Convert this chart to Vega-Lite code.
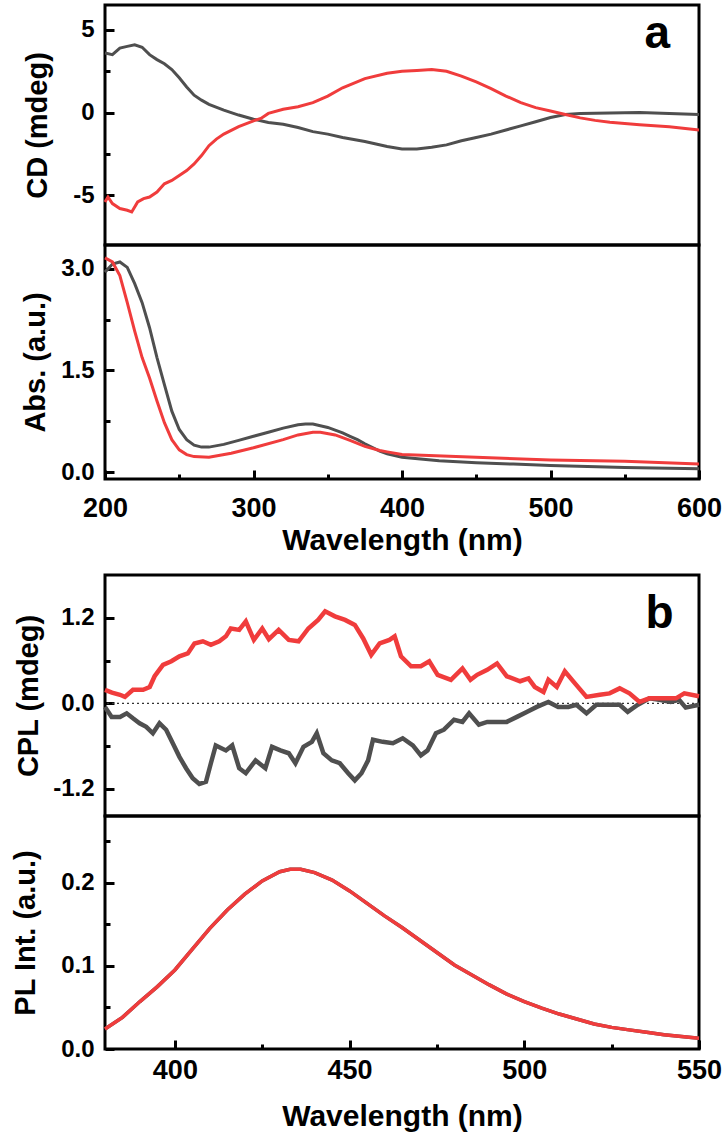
{
  "$schema": "https://vega.github.io/schema/vega-lite/v6.json",
  "padding": {"left": 10, "top": 3, "right": 5, "bottom": 3},
  "background": "white",
  "datasets": {
    "cd": [
      {"wl":200,"v":3.6,"s":"S1"},{"wl":205,"v":3.5,"s":"S1"},{"wl":210,"v":3.9,"s":"S1"},{"wl":215,"v":4.0,"s":"S1"},{"wl":220,"v":4.1,"s":"S1"},{"wl":225,"v":3.95,"s":"S1"},{"wl":230,"v":3.5,"s":"S1"},{"wl":235,"v":3.2,"s":"S1"},{"wl":240,"v":2.95,"s":"S1"},{"wl":245,"v":2.6,"s":"S1"},{"wl":250,"v":2.1,"s":"S1"},{"wl":255,"v":1.55,"s":"S1"},{"wl":260,"v":1.05,"s":"S1"},{"wl":265,"v":0.75,"s":"S1"},{"wl":270,"v":0.5,"s":"S1"},{"wl":280,"v":0.15,"s":"S1"},{"wl":290,"v":-0.15,"s":"S1"},{"wl":300,"v":-0.4,"s":"S1"},{"wl":310,"v":-0.6,"s":"S1"},{"wl":320,"v":-0.7,"s":"S1"},{"wl":330,"v":-0.9,"s":"S1"},{"wl":340,"v":-1.15,"s":"S1"},{"wl":350,"v":-1.3,"s":"S1"},{"wl":360,"v":-1.5,"s":"S1"},{"wl":375,"v":-1.75,"s":"S1"},{"wl":390,"v":-2.05,"s":"S1"},{"wl":400,"v":-2.2,"s":"S1"},{"wl":410,"v":-2.2,"s":"S1"},{"wl":420,"v":-2.1,"s":"S1"},{"wl":430,"v":-1.95,"s":"S1"},{"wl":440,"v":-1.7,"s":"S1"},{"wl":450,"v":-1.5,"s":"S1"},{"wl":460,"v":-1.3,"s":"S1"},{"wl":470,"v":-1.05,"s":"S1"},{"wl":480,"v":-0.8,"s":"S1"},{"wl":490,"v":-0.55,"s":"S1"},{"wl":500,"v":-0.3,"s":"S1"},{"wl":510,"v":-0.12,"s":"S1"},{"wl":520,"v":-0.05,"s":"S1"},{"wl":540,"v":-0.02,"s":"S1"},{"wl":560,"v":0.0,"s":"S1"},{"wl":580,"v":-0.05,"s":"S1"},{"wl":600,"v":-0.12,"s":"S1"},
      {"wl":200,"v":-5.4,"s":"S2"},{"wl":202,"v":-5.1,"s":"S2"},{"wl":205,"v":-5.5,"s":"S2"},{"wl":210,"v":-5.8,"s":"S2"},{"wl":215,"v":-5.9,"s":"S2"},{"wl":218,"v":-6.0,"s":"S2"},{"wl":222,"v":-5.4,"s":"S2"},{"wl":226,"v":-5.2,"s":"S2"},{"wl":230,"v":-5.1,"s":"S2"},{"wl":235,"v":-4.8,"s":"S2"},{"wl":240,"v":-4.3,"s":"S2"},{"wl":245,"v":-4.1,"s":"S2"},{"wl":250,"v":-3.8,"s":"S2"},{"wl":255,"v":-3.5,"s":"S2"},{"wl":260,"v":-3.1,"s":"S2"},{"wl":265,"v":-2.6,"s":"S2"},{"wl":270,"v":-2.0,"s":"S2"},{"wl":275,"v":-1.6,"s":"S2"},{"wl":280,"v":-1.3,"s":"S2"},{"wl":290,"v":-0.85,"s":"S2"},{"wl":300,"v":-0.5,"s":"S2"},{"wl":305,"v":-0.35,"s":"S2"},{"wl":310,"v":-0.05,"s":"S2"},{"wl":320,"v":0.2,"s":"S2"},{"wl":330,"v":0.35,"s":"S2"},{"wl":340,"v":0.6,"s":"S2"},{"wl":350,"v":1.0,"s":"S2"},{"wl":360,"v":1.5,"s":"S2"},{"wl":375,"v":2.05,"s":"S2"},{"wl":390,"v":2.38,"s":"S2"},{"wl":400,"v":2.5,"s":"S2"},{"wl":410,"v":2.55,"s":"S2"},{"wl":420,"v":2.6,"s":"S2"},{"wl":430,"v":2.5,"s":"S2"},{"wl":440,"v":2.2,"s":"S2"},{"wl":450,"v":1.85,"s":"S2"},{"wl":460,"v":1.45,"s":"S2"},{"wl":470,"v":1.0,"s":"S2"},{"wl":480,"v":0.6,"s":"S2"},{"wl":490,"v":0.3,"s":"S2"},{"wl":500,"v":0.1,"s":"S2"},{"wl":510,"v":-0.12,"s":"S2"},{"wl":520,"v":-0.32,"s":"S2"},{"wl":530,"v":-0.47,"s":"S2"},{"wl":540,"v":-0.58,"s":"S2"},{"wl":560,"v":-0.73,"s":"S2"},{"wl":580,"v":-0.85,"s":"S2"},{"wl":600,"v":-1.05,"s":"S2"}
    ],
    "abs": [
      {"wl":200,"v":2.95,"s":"S1"},{"wl":205,"v":3.07,"s":"S1"},{"wl":210,"v":3.1,"s":"S1"},{"wl":215,"v":3.02,"s":"S1"},{"wl":220,"v":2.78,"s":"S1"},{"wl":225,"v":2.5,"s":"S1"},{"wl":230,"v":2.13,"s":"S1"},{"wl":235,"v":1.69,"s":"S1"},{"wl":240,"v":1.29,"s":"S1"},{"wl":245,"v":0.9,"s":"S1"},{"wl":250,"v":0.63,"s":"S1"},{"wl":255,"v":0.48,"s":"S1"},{"wl":260,"v":0.4,"s":"S1"},{"wl":265,"v":0.37,"s":"S1"},{"wl":270,"v":0.37,"s":"S1"},{"wl":280,"v":0.41,"s":"S1"},{"wl":290,"v":0.47,"s":"S1"},{"wl":300,"v":0.53,"s":"S1"},{"wl":310,"v":0.59,"s":"S1"},{"wl":320,"v":0.65,"s":"S1"},{"wl":330,"v":0.7,"s":"S1"},{"wl":335,"v":0.71,"s":"S1"},{"wl":340,"v":0.71,"s":"S1"},{"wl":350,"v":0.66,"s":"S1"},{"wl":360,"v":0.58,"s":"S1"},{"wl":365,"v":0.53,"s":"S1"},{"wl":370,"v":0.48,"s":"S1"},{"wl":375,"v":0.42,"s":"S1"},{"wl":385,"v":0.31,"s":"S1"},{"wl":390,"v":0.27,"s":"S1"},{"wl":400,"v":0.22,"s":"S1"},{"wl":425,"v":0.17,"s":"S1"},{"wl":450,"v":0.14,"s":"S1"},{"wl":475,"v":0.12,"s":"S1"},{"wl":500,"v":0.1,"s":"S1"},{"wl":550,"v":0.07,"s":"S1"},{"wl":600,"v":0.05,"s":"S1"},
      {"wl":200,"v":3.16,"s":"S2"},{"wl":205,"v":3.1,"s":"S2"},{"wl":210,"v":2.9,"s":"S2"},{"wl":215,"v":2.5,"s":"S2"},{"wl":220,"v":2.08,"s":"S2"},{"wl":225,"v":1.69,"s":"S2"},{"wl":230,"v":1.39,"s":"S2"},{"wl":235,"v":1.05,"s":"S2"},{"wl":240,"v":0.73,"s":"S2"},{"wl":245,"v":0.48,"s":"S2"},{"wl":250,"v":0.33,"s":"S2"},{"wl":255,"v":0.26,"s":"S2"},{"wl":260,"v":0.23,"s":"S2"},{"wl":270,"v":0.22,"s":"S2"},{"wl":285,"v":0.28,"s":"S2"},{"wl":300,"v":0.36,"s":"S2"},{"wl":320,"v":0.48,"s":"S2"},{"wl":330,"v":0.55,"s":"S2"},{"wl":340,"v":0.59,"s":"S2"},{"wl":345,"v":0.59,"s":"S2"},{"wl":355,"v":0.55,"s":"S2"},{"wl":365,"v":0.47,"s":"S2"},{"wl":375,"v":0.38,"s":"S2"},{"wl":385,"v":0.32,"s":"S2"},{"wl":390,"v":0.3,"s":"S2"},{"wl":400,"v":0.26,"s":"S2"},{"wl":450,"v":0.22,"s":"S2"},{"wl":500,"v":0.18,"s":"S2"},{"wl":550,"v":0.16,"s":"S2"},{"wl":600,"v":0.12,"s":"S2"}
    ],
    "cpl": [
      {"wl":380,"v":-0.05,"s":"S1"},{"wl":381.9,"v":-0.19,"s":"S1"},{"wl":384.3,"v":-0.19,"s":"S1"},{"wl":386.2,"v":-0.14,"s":"S1"},{"wl":388,"v":-0.21,"s":"S1"},{"wl":389.9,"v":-0.28,"s":"S1"},{"wl":391.8,"v":-0.33,"s":"S1"},{"wl":393.7,"v":-0.42,"s":"S1"},{"wl":395.6,"v":-0.28,"s":"S1"},{"wl":397.5,"v":-0.37,"s":"S1"},{"wl":399.4,"v":-0.56,"s":"S1"},{"wl":401.3,"v":-0.75,"s":"S1"},{"wl":403.2,"v":-0.91,"s":"S1"},{"wl":405.1,"v":-1.05,"s":"S1"},{"wl":407,"v":-1.13,"s":"S1"},{"wl":408.9,"v":-1.1,"s":"S1"},{"wl":410.3,"v":-0.84,"s":"S1"},{"wl":411.7,"v":-0.59,"s":"S1"},{"wl":414.6,"v":-0.66,"s":"S1"},{"wl":416.4,"v":-0.59,"s":"S1"},{"wl":418.4,"v":-0.91,"s":"S1"},{"wl":420.3,"v":-0.98,"s":"S1"},{"wl":423.1,"v":-0.8,"s":"S1"},{"wl":425.9,"v":-0.91,"s":"S1"},{"wl":427.8,"v":-0.61,"s":"S1"},{"wl":430.2,"v":-0.66,"s":"S1"},{"wl":432.6,"v":-0.7,"s":"S1"},{"wl":434.5,"v":-0.84,"s":"S1"},{"wl":436.8,"v":-0.61,"s":"S1"},{"wl":439.2,"v":-0.54,"s":"S1"},{"wl":440.6,"v":-0.42,"s":"S1"},{"wl":442.5,"v":-0.7,"s":"S1"},{"wl":444.9,"v":-0.8,"s":"S1"},{"wl":447.2,"v":-0.84,"s":"S1"},{"wl":449.6,"v":-0.98,"s":"S1"},{"wl":451.5,"v":-1.08,"s":"S1"},{"wl":453.4,"v":-0.98,"s":"S1"},{"wl":455.3,"v":-0.8,"s":"S1"},{"wl":456.7,"v":-0.51,"s":"S1"},{"wl":459.5,"v":-0.54,"s":"S1"},{"wl":462.4,"v":-0.56,"s":"S1"},{"wl":465.2,"v":-0.49,"s":"S1"},{"wl":468.1,"v":-0.59,"s":"S1"},{"wl":470.4,"v":-0.73,"s":"S1"},{"wl":472.3,"v":-0.66,"s":"S1"},{"wl":474.7,"v":-0.42,"s":"S1"},{"wl":477,"v":-0.37,"s":"S1"},{"wl":479.9,"v":-0.23,"s":"S1"},{"wl":482.3,"v":-0.26,"s":"S1"},{"wl":484.2,"v":-0.14,"s":"S1"},{"wl":487,"v":-0.3,"s":"S1"},{"wl":489.4,"v":-0.26,"s":"S1"},{"wl":492.2,"v":-0.26,"s":"S1"},{"wl":495,"v":-0.26,"s":"S1"},{"wl":497.9,"v":-0.19,"s":"S1"},{"wl":500.7,"v":-0.12,"s":"S1"},{"wl":503.6,"v":-0.05,"s":"S1"},{"wl":506.9,"v":0.02,"s":"S1"},{"wl":509.7,"v":-0.05,"s":"S1"},{"wl":512.6,"v":-0.05,"s":"S1"},{"wl":514.9,"v":-0.02,"s":"S1"},{"wl":517.8,"v":-0.14,"s":"S1"},{"wl":520.6,"v":-0.02,"s":"S1"},{"wl":524.4,"v":-0.02,"s":"S1"},{"wl":527.3,"v":-0.02,"s":"S1"},{"wl":529.6,"v":-0.12,"s":"S1"},{"wl":532.5,"v":-0.02,"s":"S1"},{"wl":535.8,"v":0.07,"s":"S1"},{"wl":538.6,"v":0.05,"s":"S1"},{"wl":541.9,"v":0.02,"s":"S1"},{"wl":544.3,"v":0.05,"s":"S1"},{"wl":546.2,"v":-0.06,"s":"S1"},{"wl":550,"v":-0.02,"s":"S1"},
      {"wl":380,"v":0.19,"s":"S2"},{"wl":382,"v":0.15,"s":"S2"},{"wl":384.3,"v":0.12,"s":"S2"},{"wl":385.7,"v":0.09,"s":"S2"},{"wl":388,"v":0.19,"s":"S2"},{"wl":390.9,"v":0.19,"s":"S2"},{"wl":392.8,"v":0.23,"s":"S2"},{"wl":394.2,"v":0.38,"s":"S2"},{"wl":396.6,"v":0.54,"s":"S2"},{"wl":399,"v":0.59,"s":"S2"},{"wl":401.3,"v":0.66,"s":"S2"},{"wl":403.7,"v":0.7,"s":"S2"},{"wl":405.6,"v":0.84,"s":"S2"},{"wl":408,"v":0.87,"s":"S2"},{"wl":410.3,"v":0.82,"s":"S2"},{"wl":412.7,"v":0.87,"s":"S2"},{"wl":414.6,"v":0.94,"s":"S2"},{"wl":416,"v":1.05,"s":"S2"},{"wl":418.4,"v":1.03,"s":"S2"},{"wl":420.3,"v":1.15,"s":"S2"},{"wl":422.6,"v":0.89,"s":"S2"},{"wl":425,"v":1.05,"s":"S2"},{"wl":426.9,"v":0.9,"s":"S2"},{"wl":429.7,"v":1.03,"s":"S2"},{"wl":432.6,"v":0.89,"s":"S2"},{"wl":435.4,"v":0.87,"s":"S2"},{"wl":438.2,"v":1.05,"s":"S2"},{"wl":441,"v":1.17,"s":"S2"},{"wl":443,"v":1.29,"s":"S2"},{"wl":445.8,"v":1.22,"s":"S2"},{"wl":448.7,"v":1.17,"s":"S2"},{"wl":451.5,"v":1.1,"s":"S2"},{"wl":453.9,"v":0.91,"s":"S2"},{"wl":456.2,"v":0.68,"s":"S2"},{"wl":458.6,"v":0.84,"s":"S2"},{"wl":461.4,"v":0.89,"s":"S2"},{"wl":462.9,"v":0.94,"s":"S2"},{"wl":464.7,"v":0.66,"s":"S2"},{"wl":467.6,"v":0.52,"s":"S2"},{"wl":470.4,"v":0.52,"s":"S2"},{"wl":472.8,"v":0.59,"s":"S2"},{"wl":475.2,"v":0.4,"s":"S2"},{"wl":479,"v":0.33,"s":"S2"},{"wl":482.3,"v":0.49,"s":"S2"},{"wl":484.6,"v":0.33,"s":"S2"},{"wl":486.5,"v":0.4,"s":"S2"},{"wl":489.4,"v":0.47,"s":"S2"},{"wl":492.2,"v":0.56,"s":"S2"},{"wl":495,"v":0.38,"s":"S2"},{"wl":498.8,"v":0.31,"s":"S2"},{"wl":501.2,"v":0.35,"s":"S2"},{"wl":503,"v":0.23,"s":"S2"},{"wl":505.5,"v":0.16,"s":"S2"},{"wl":506.9,"v":0.33,"s":"S2"},{"wl":509.3,"v":0.23,"s":"S2"},{"wl":511.6,"v":0.45,"s":"S2"},{"wl":514.5,"v":0.28,"s":"S2"},{"wl":517.8,"v":0.09,"s":"S2"},{"wl":521.6,"v":0.12,"s":"S2"},{"wl":524.4,"v":0.14,"s":"S2"},{"wl":527.3,"v":0.21,"s":"S2"},{"wl":530.1,"v":0.14,"s":"S2"},{"wl":533,"v":0.02,"s":"S2"},{"wl":535.8,"v":0.07,"s":"S2"},{"wl":539.6,"v":0.07,"s":"S2"},{"wl":543.4,"v":0.07,"s":"S2"},{"wl":545.8,"v":0.14,"s":"S2"},{"wl":550,"v":0.1,"s":"S2"}
    ],
    "pl": [
      {"wl":380,"v":0.024,"s":"S1"},{"wl":385,"v":0.038,"s":"S1"},{"wl":390,"v":0.057,"s":"S1"},{"wl":395,"v":0.075,"s":"S1"},{"wl":400,"v":0.095,"s":"S1"},{"wl":405,"v":0.12,"s":"S1"},{"wl":410,"v":0.145,"s":"S1"},{"wl":415,"v":0.167,"s":"S1"},{"wl":420,"v":0.186,"s":"S1"},{"wl":425,"v":0.202,"s":"S1"},{"wl":430,"v":0.213,"s":"S1"},{"wl":433,"v":0.216,"s":"S1"},{"wl":436,"v":0.216,"s":"S1"},{"wl":440,"v":0.212,"s":"S1"},{"wl":445,"v":0.203,"s":"S1"},{"wl":450,"v":0.19,"s":"S1"},{"wl":455,"v":0.175,"s":"S1"},{"wl":460,"v":0.16,"s":"S1"},{"wl":465,"v":0.146,"s":"S1"},{"wl":470,"v":0.131,"s":"S1"},{"wl":475,"v":0.116,"s":"S1"},{"wl":480,"v":0.101,"s":"S1"},{"wl":485,"v":0.089,"s":"S1"},{"wl":490,"v":0.077,"s":"S1"},{"wl":495,"v":0.066,"s":"S1"},{"wl":500,"v":0.057,"s":"S1"},{"wl":505,"v":0.049,"s":"S1"},{"wl":510,"v":0.042,"s":"S1"},{"wl":515,"v":0.036,"s":"S1"},{"wl":520,"v":0.03,"s":"S1"},{"wl":525,"v":0.026,"s":"S1"},{"wl":530,"v":0.023,"s":"S1"},{"wl":535,"v":0.02,"s":"S1"},{"wl":540,"v":0.017,"s":"S1"},{"wl":545,"v":0.015,"s":"S1"},{"wl":550,"v":0.013,"s":"S1"},
      {"wl":380,"v":0.024,"s":"S2"},{"wl":385,"v":0.038,"s":"S2"},{"wl":390,"v":0.057,"s":"S2"},{"wl":395,"v":0.075,"s":"S2"},{"wl":400,"v":0.095,"s":"S2"},{"wl":405,"v":0.12,"s":"S2"},{"wl":410,"v":0.145,"s":"S2"},{"wl":415,"v":0.167,"s":"S2"},{"wl":420,"v":0.186,"s":"S2"},{"wl":425,"v":0.202,"s":"S2"},{"wl":430,"v":0.213,"s":"S2"},{"wl":433,"v":0.216,"s":"S2"},{"wl":436,"v":0.216,"s":"S2"},{"wl":440,"v":0.212,"s":"S2"},{"wl":445,"v":0.203,"s":"S2"},{"wl":450,"v":0.19,"s":"S2"},{"wl":455,"v":0.175,"s":"S2"},{"wl":460,"v":0.16,"s":"S2"},{"wl":465,"v":0.146,"s":"S2"},{"wl":470,"v":0.131,"s":"S2"},{"wl":475,"v":0.116,"s":"S2"},{"wl":480,"v":0.101,"s":"S2"},{"wl":485,"v":0.089,"s":"S2"},{"wl":490,"v":0.077,"s":"S2"},{"wl":495,"v":0.066,"s":"S2"},{"wl":500,"v":0.057,"s":"S2"},{"wl":505,"v":0.049,"s":"S2"},{"wl":510,"v":0.042,"s":"S2"},{"wl":515,"v":0.036,"s":"S2"},{"wl":520,"v":0.03,"s":"S2"},{"wl":525,"v":0.026,"s":"S2"},{"wl":530,"v":0.023,"s":"S2"},{"wl":535,"v":0.02,"s":"S2"},{"wl":540,"v":0.017,"s":"S2"},{"wl":545,"v":0.015,"s":"S2"},{"wl":550,"v":0.013,"s":"S2"}
    ]
  },
  "spacing": 16,
  "vconcat": [
    {
      "spacing": 0,
      "bounds": "flush",
      "vconcat": [
        {
          "width": 594, "height": 240,
          "layer": [
            {
              "data": {"name": "cd"},
              "mark": {"type": "line", "strokeWidth": 3},
              "encoding": {
                "x": {"field": "wl", "type": "quantitative", "scale": {"domain": [200, 600], "nice": false, "zero": false}, "axis": null},
                "y": {"field": "v", "type": "quantitative", "scale": {"domain": [-8, 6.5], "nice": false, "zero": false},
                  "axis": {"title": "CD (mdeg)", "values": [-5, -2.5, 0, 2.5, 5], "labelExpr": "datum.value % 5 === 0 ? '' + datum.value : ''",
                    "tickDash": {"condition": {"test": "datum.value % 5 === 0", "value": []}, "value": [5, 20]},
                    "labelPadding": 20, "labelFontSize": 24, "titleFontSize": 29, "titlePadding": 20}},
                "color": {"field": "s", "type": "nominal", "scale": {"domain": ["S1", "S2"], "range": ["#4f4f4f", "#f03c3c"]}, "legend": null}
              }
            },
            {
              "data": {"values": [{"wl": 572, "v": 3.9, "t": "a"}]},
              "mark": {"type": "text", "fontSize": 46, "fontWeight": "bold", "align": "center", "baseline": "alphabetic", "color": "black"},
              "encoding": {"x": {"field": "wl", "type": "quantitative"}, "y": {"field": "v", "type": "quantitative"}, "text": {"field": "t"}}
            }
          ]
        },
        {
          "width": 594, "height": 234,
          "data": {"name": "abs"},
          "mark": {"type": "line", "strokeWidth": 3},
          "encoding": {
            "x": {"field": "wl", "type": "quantitative", "scale": {"domain": [200, 600], "nice": false, "zero": false},
              "axis": {"title": "Wavelength (nm)", "values": [200, 250, 300, 350, 400, 450, 500, 550, 600], "labelExpr": "datum.value % 100 === 0 ? datum.label : ''",
                "tickDash": {"condition": {"test": "datum.value % 100 === 0", "value": []}, "value": [5, 20]},
                "labelPadding": 25, "labelFontSize": 27, "titleFontSize": 30, "titlePadding": 4, "labelFlush": false}},
            "y": {"field": "v", "type": "quantitative", "scale": {"domain": [-0.1, 3.35], "nice": false, "zero": false},
              "axis": {"title": "Abs. (a.u.)", "values": [0, 0.75, 1.5, 2.25, 3], "labelExpr": "datum.value % 1.5 === 0 ? format(datum.value, '.1f') : ''",
                "tickDash": {"condition": {"test": "datum.value % 1.5 === 0", "value": []}, "value": [5, 20]},
                "labelPadding": 20, "labelFontSize": 24, "titleFontSize": 29, "titlePadding": 10}},
            "color": {"field": "s", "type": "nominal", "scale": {"domain": ["S1", "S2"], "range": ["#4f4f4f", "#f03c3c"]}, "legend": null}
          }
        }
      ]
    },
    {
      "spacing": 0,
      "bounds": "flush",
      "vconcat": [
        {
          "width": 594, "height": 241,
          "layer": [
            {
              "data": {"values": [{"v": 0}]},
              "mark": {"type": "rule", "strokeDash": [2, 3], "strokeWidth": 1.2, "color": "#333333"},
              "encoding": {"y": {"field": "v", "type": "quantitative"}}
            },
            {
              "data": {"name": "cpl"},
              "mark": {"type": "line", "strokeWidth": 4.5},
              "encoding": {
                "x": {"field": "wl", "type": "quantitative", "scale": {"domain": [380, 550], "nice": false, "zero": false}, "axis": null},
                "y": {"field": "v", "type": "quantitative", "scale": {"domain": [-1.58, 1.8], "nice": false, "zero": false},
                  "axis": {"title": "CPL (mdeg)", "values": [-1.2, -0.6, 0, 0.6, 1.2], "labelExpr": "abs(datum.value) === 1.2 || datum.value === 0 ? replace(format(datum.value, '.1f'), '\u2212', '-') : ''",
                    "tickDash": {"condition": {"test": "abs(datum.value) === 1.2 || datum.value === 0", "value": []}, "value": [5, 20]},
                    "labelPadding": 20, "labelFontSize": 24, "titleFontSize": 29, "titlePadding": 9}},
                "color": {"field": "s", "type": "nominal", "scale": {"domain": ["S1", "S2"], "range": ["#4f4f4f", "#f03c3c"]}, "legend": null}
              }
            },
            {
              "data": {"values": [{"wl": 538.7, "v": 1.05, "t": "b"}]},
              "mark": {"type": "text", "fontSize": 46, "fontWeight": "bold", "align": "center", "baseline": "alphabetic", "color": "black"},
              "encoding": {"x": {"field": "wl", "type": "quantitative"}, "y": {"field": "v", "type": "quantitative"}, "text": {"field": "t"}}
            }
          ]
        },
        {
          "width": 594, "height": 233,
          "data": {"name": "pl"},
          "mark": {"type": "line", "strokeWidth": 3.5},
          "encoding": {
            "x": {"field": "wl", "type": "quantitative", "scale": {"domain": [380, 550], "nice": false, "zero": false},
              "axis": {"title": "Wavelength (nm)", "values": [400, 425, 450, 475, 500, 525, 550], "labelExpr": "datum.value % 50 === 0 ? datum.label : ''",
                "tickDash": {"condition": {"test": "datum.value % 50 === 0", "value": []}, "value": [5, 20]},
                "labelPadding": 17, "labelFontSize": 27, "titleFontSize": 30, "titlePadding": 18, "labelFlush": false}},
            "y": {"field": "v", "type": "quantitative", "scale": {"domain": [0, 0.28], "nice": false, "zero": false},
              "axis": {"title": "PL Int. (a.u.)", "values": [0, 0.05, 0.1, 0.15, 0.2, 0.25], "labelExpr": "round(datum.value * 100) % 10 === 0 ? format(datum.value, '.1f') : ''",
                "tickDash": {"condition": {"test": "round(datum.value * 100) % 10 === 0", "value": []}, "value": [5, 20]},
                "labelPadding": 20, "labelFontSize": 24, "titleFontSize": 29, "titlePadding": 20}},
            "color": {"field": "s", "type": "nominal", "scale": {"domain": ["S1", "S2"], "range": ["#4f4f4f", "#f03c3c"]}, "legend": null}
          }
        }
      ]
    }
  ],
  "config": {
    "view": {"stroke": "black", "strokeWidth": 3},
    "font": "Liberation Sans",
    "axis": {"domain": false, "grid": false, "ticks": true, "tickSize": -9, "zindex": 2, "labelFont": "Liberation Sans", "labelFontWeight": "bold", "titleFont": "Liberation Sans", "titleFontWeight": "bold", "labelColor": "black", "titleColor": "black", "tickColor": "black", "tickWidth": 3}
  }
}
